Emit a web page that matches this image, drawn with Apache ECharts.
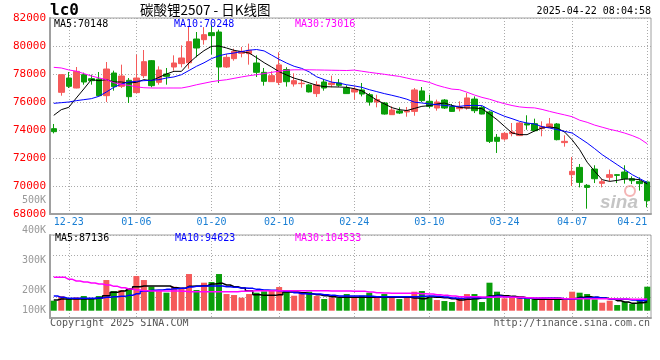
<!DOCTYPE html>
<html><head><meta charset="utf-8">
<script src="https://cdn.jsdelivr.net/npm/echarts@6/dist/echarts.min.js"></script>
<style>html,body{margin:0;padding:0;background:#fff}#c{width:660px;height:360px}</style>
</head><body><div id="c"></div>
<script>
const dates = ['12-19','12-20','12-23','12-24','12-25','12-26','12-27','12-30','12-31',
'01-02','01-03','01-06','01-07','01-08','01-09','01-10','01-13','01-14','01-15','01-16','01-17','01-20','01-21','01-22','01-23','01-24','01-27',
'02-05','02-06','02-07','02-10','02-11','02-12','02-13','02-14','02-17','02-18','02-19','02-20','02-21','02-24','02-25','02-26','02-27','02-28',
'03-03','03-04','03-05','03-06','03-07','03-10','03-11','03-12','03-13','03-14','03-17','03-18','03-19','03-20','03-21','03-24','03-25','03-26','03-27','03-28','03-31',
'04-01','04-02','04-03','04-07','04-08','04-09','04-10','04-11','04-14','04-15','04-16','04-17','04-18','04-21'];
const labelDates = ['12-23','01-06','01-20','02-10','02-24','03-10','03-24','04-07','04-21'];

const open = [74095,76690,77714,77000,77952,77667,77643,76452,78071,77119,
77548,76667,77881,78952,77405,78000,78500,78738,78800,80500,
80452,80950,81000,78500,79095,79476,79452,78786,78119,77452,
77400,78320,77286,77310,77220,76600,77430,77240,77360,77000,
76714,76860,76520,76000,75930,75095,75360,75290,75330,76790,
76050,75570,76140,75670,75520,75570,76210,75620,75290,73480,
73360,73740,73600,74450,74450,74100,74190,74430,73100,70810,
71330,70050,71210,70190,70620,70810,71000,70520,70330,70290];
const close = [73881,77950,77119,78190,77429,77524,76452,78357,77095,77857,
76381,77714,78881,77167,78286,77833,78786,79143,80310,79857,
80810,80740,78500,79190,79619,79619,79690,78119,77476,77881,
78650,77450,77524,77340,76720,77230,77000,77360,77190,76600,
76905,76570,76000,76170,75140,75430,75210,75380,76860,76100,
75690,76000,75570,75330,75640,76290,75380,75140,73190,73190,
73760,73860,74500,74360,73950,74240,74430,73310,73190,71050,
70260,69900,70520,70310,70810,70760,70520,70380,70170,68950];
const low = [73760,76450,77000,76980,77238,77238,76405,76000,76810,77000,
75928,76620,77714,77048,77238,77238,78238,78476,78380,79190,
80095,79400,77360,78430,78950,79190,78667,77786,77167,77440,
77210,77100,77100,77020,76680,76360,76810,77050,77090,76580,
76170,76400,75740,75620,75100,75090,75140,74950,75020,76000,
75570,75380,75500,75290,75330,75450,75210,75120,73070,72360,
73240,73550,73570,74020,73900,73550,74140,73260,72810,70000,
69900,68380,70210,69900,70330,70210,70170,70140,69670,68480];
const high = [74430,77980,78143,78500,78095,77952,78143,78857,78238,78667,
77714,79381,79714,79000,78548,78429,79333,80048,81380,81000,
81350,81500,81170,79430,79810,79930,80167,79333,78429,78190,
79550,78480,78050,77640,77280,77480,77640,77880,77640,77190,
77120,77360,76640,76520,76000,75690,75620,75640,77000,77070,
76520,76170,76210,75860,76050,76640,76400,75700,75380,73710,
73860,74500,74570,75050,74810,74620,74860,74500,73620,72070,
71570,70140,71480,70500,71170,70830,71480,70690,70620,70330];

const ma5 = [75048,75452,75619,76286,76929,77595,77524,77595,77429,77429,
77357,77405,77595,77524,77762,78000,78190,78190,78786,79262,
79667,79976,80000,79857,79690,79595,79500,79167,78810,78500,
78167,77929,77700,77550,77370,77190,77100,77080,77070,77048,
76950,76800,76480,76140,75870,75600,75450,75390,75540,75690,
75738,75857,75929,75762,75619,75571,75571,75524,75143,74738,
74262,73786,73667,73667,73930,74143,74214,74143,73857,73300,
72600,71700,71050,70450,70330,70400,70500,70500,70450,70148];
const ma10 = [75905,75952,76000,76095,76167,76238,76405,76714,77048,77286,
77429,77476,77524,77548,77595,77714,77790,77950,78250,78550,
78800,79100,79300,79430,79500,79600,79700,79750,79650,79350,
79050,78780,78550,78400,78150,77800,77600,77420,77350,77230,
77150,77050,76880,76740,76600,76480,76350,76200,75990,75930,
75860,75810,75760,75700,75690,75750,75760,75740,75450,75210,
74980,74810,74620,74500,74430,74238,74143,74024,73905,73786,
73429,73071,72667,72238,71881,71524,71167,70810,70524,70248];
const ma30 = [78476,78430,78290,78200,78030,77860,77720,77600,77380,77250,
77190,77080,77020,77000,77000,77000,77000,77000,77100,77230,
77340,77450,77530,77590,77690,77790,77880,77950,78030,78120,
78200,78270,78300,78300,78300,78290,78280,78270,78260,78250,
78280,78200,78120,78050,77980,77900,77830,77710,77590,77520,
77400,77200,77050,76920,76880,76700,76500,76330,76200,76030,
75880,75750,75650,75600,75580,75470,75330,75200,75080,74950,
74700,74550,74350,74200,74050,73930,73780,73600,73380,73016];

const volume = [90000,132000,111000,120000,132000,111000,132000,276000,177000,186000,
204000,312000,276000,216000,177000,162000,216000,207000,330000,186000,
252000,258000,330000,150000,141000,117000,150000,162000,174000,177000,
213000,186000,135000,150000,171000,132000,105000,120000,120000,150000,
120000,135000,162000,126000,150000,126000,105000,120000,171000,177000,
117000,96000,87000,78000,111000,150000,150000,78000,252000,171000,
111000,126000,126000,117000,111000,111000,96000,120000,102000,171000,
162000,150000,102000,72000,90000,51000,78000,60000,102000,216000];
const volMa5 = [96000,105000,105000,105000,105000,108000,114000,135000,165000,177000,
195000,216000,222000,222000,222000,222000,207000,201000,219000,222000,
225000,240000,246000,231000,216000,204000,180000,144000,138000,138000,
144000,168000,168000,162000,153000,144000,135000,126000,120000,120000,
120000,120000,120000,120000,120000,120000,120000,120000,114000,108000,
123000,120000,117000,108000,96000,102000,108000,117000,132000,138000,
135000,129000,123000,114000,102000,102000,102000,102000,105000,108000,
120000,126000,120000,114000,108000,90000,78000,66000,72000,81000];
const volMa10 = [132000,120000,111000,111000,111000,111000,114000,120000,126000,129000,
138000,153000,174000,183000,186000,192000,198000,201000,213000,219000,
222000,222000,222000,216000,210000,204000,201000,192000,186000,183000,
180000,174000,162000,153000,150000,150000,144000,138000,132000,132000,
132000,132000,129000,126000,126000,126000,126000,126000,126000,129000,
132000,129000,123000,114000,111000,117000,117000,117000,126000,132000,
126000,120000,114000,111000,111000,114000,114000,111000,108000,108000,
111000,114000,120000,114000,105000,102000,102000,96000,90000,96000];
const volMa30 = [300000,300000,282000,267000,258000,249000,240000,231000,219000,207000,
195000,186000,180000,177000,177000,177000,177000,174000,171000,171000,
171000,171000,171000,171000,171000,174000,177000,180000,180000,180000,
180000,180000,180000,180000,180000,180000,180000,177000,177000,177000,
174000,174000,168000,162000,159000,156000,156000,156000,156000,153000,
150000,144000,138000,132000,126000,126000,126000,123000,120000,123000,
123000,120000,120000,117000,114000,114000,111000,111000,108000,108000,
108000,108000,108000,108000,108000,105000,105000,102000,102000,105000];

const volTickValues = [100000,200000,300000,400000,500000];
const volTickLabels = ['100K','200K','300K','400K','500K'];

const RED = '#f55a5a', GREEN = '#0a9e0a', GRID = '#aaaaaa', FRAME = '#a0a0a0';
const MONO = "'DejaVu Sans Mono', 'Liberation Mono', monospace";
const labelSet = new Set(labelDates);
const showDate = (i, v) => labelSet.has(v !== undefined ? v : dates[i]);

const candles = dates.map((d, i) => [open[i], close[i], low[i], high[i]]);
const dotted = { color: GRID, width: 1, type: [1, 2] };

const chart = echarts.init(document.getElementById('c'), null, { renderer: 'canvas' });
chart.setOption({
  animation: false,
  backgroundColor: '#fff',
  grid: [
    { left: 50, right: 9, top: 18, height: 196, show: true, borderColor: FRAME, borderWidth: 1 },
    { left: 50, right: 9, top: 235, height: 82.7, show: true, borderColor: FRAME, borderWidth: 1 },
    { left: 50, right: 9, top: 235, height: 75.7 },
    { left: 50, right: 9, top: 200, height: 121 }
  ],
  xAxis: [
    { gridIndex: 0, type: 'category', data: dates, boundaryGap: true,
      axisLine: { show: true, lineStyle: { color: FRAME, width: 2 } },
      axisTick: { show: false },
      axisLabel: { interval: showDate, color: '#1a7fd4', fontFamily: MONO, fontSize: 10, margin: 3, alignMaxLabel: 'right' },
      splitLine: { show: true, interval: showDate, alignWithLabel: true, lineStyle: dotted } },
    { gridIndex: 1, type: 'category', data: dates, boundaryGap: true,
      axisLine: { show: true, lineStyle: { color: FRAME, width: 2 } },
      axisTick: { show: false }, axisLabel: { show: false },
      splitLine: { show: true, interval: showDate, alignWithLabel: true, lineStyle: dotted } },
    { gridIndex: 2, type: 'category', data: dates, boundaryGap: true, show: false },
    { gridIndex: 3, type: 'category', data: dates, boundaryGap: true, show: false }
  ],
  yAxis: [
    { gridIndex: 0, type: 'value', min: 68000, max: 82000, interval: 2000,
      axisLine: { show: true, lineStyle: { color: FRAME, width: 2 } }, axisTick: { show: false },
      axisLabel: { color: '#ff0000', fontFamily: MONO, fontSize: 11, margin: 4, formatter: v => String(v) },
      splitLine: { show: true, lineStyle: dotted } },
    { gridIndex: 1, type: 'value', min: 0, max: 4, interval: 1,
      axisLine: { show: true, lineStyle: { color: FRAME, width: 2 } }, axisTick: { show: false },
      axisLabel: { show: false }, splitLine: { show: true, lineStyle: dotted } },
    { gridIndex: 2, type: 'value', min: 0, max: 681300, show: false, splitLine: { show: false } },
    { gridIndex: 3, type: 'value', min: volTickValues[0], max: volTickValues[volTickValues.length - 1], interval: 100000,
      axisLine: { show: false }, axisTick: { show: false }, splitLine: { show: false },
      axisLabel: { margin: 4, color: '#999', fontFamily: MONO, fontSize: 10,
        formatter: v => { const t = volTickLabels[volTickValues.indexOf(v)] || ''; return v === volTickValues[0] ? '{up|' + t + '}' : t; },
        rich: { up: { color: '#999', fontFamily: MONO, fontSize: 10, padding: [0, 0, 22, 0] } } } }
  ],
  series: [
    { type: 'candlestick', xAxisIndex: 0, yAxisIndex: 0, data: candles, barWidth: 6,
      itemStyle: { color: RED, color0: GREEN, borderColor: RED, borderColor0: GREEN, borderWidth: 1 } },
    { type: 'line', xAxisIndex: 0, yAxisIndex: 0, data: ma5, symbol: 'none', lineStyle: { color: '#000', width: 1 }, z: 5 },
    { type: 'line', xAxisIndex: 0, yAxisIndex: 0, data: ma10, symbol: 'none', lineStyle: { color: '#0000ff', width: 1 }, z: 5 },
    { type: 'line', xAxisIndex: 0, yAxisIndex: 0, data: ma30, symbol: 'none', lineStyle: { color: '#ff00ff', width: 1 }, z: 5 },
    { type: 'bar', xAxisIndex: 2, yAxisIndex: 2, data: volume, barWidth: 6,
      itemStyle: { color: p => close[p.dataIndex] >= open[p.dataIndex] ? RED : GREEN } },
    { type: 'line', xAxisIndex: 2, yAxisIndex: 2, data: volMa5, symbol: 'none', step: 'middle', lineStyle: { color: '#000', width: 1.5 }, z: 5 },
    { type: 'line', xAxisIndex: 2, yAxisIndex: 2, data: volMa10, symbol: 'none', step: 'middle', lineStyle: { color: '#0000ff', width: 1.5 }, z: 5 },
    { type: 'line', xAxisIndex: 2, yAxisIndex: 2, data: volMa30, symbol: 'none', step: 'middle', lineStyle: { color: '#ff00ff', width: 1.5 }, z: 5 }
  ],
  graphic: [
    { type: 'text', left: 50, top: 3, style: { text: 'lc0', fill: '#000', font: "bold 16px 'DejaVu Sans Mono'" } },
    { type: 'text', left: 140, top: 3, style: { text: '碳酸锂2507 - 日K线图', fill: '#000', font: "13.5px 'Noto Sans CJK SC'" } },
    { type: 'text', right: 9, top: 6, style: { text: '2025-04-22 08:04:58', fill: '#000', font: "10px 'DejaVu Sans Mono'" } },
    { type: 'text', left: 54, top: 19, z: 10, style: { text: 'MA5:70148', fill: '#000', font: "10px 'DejaVu Sans Mono'" } },
    { type: 'text', left: 174, top: 19, z: 10, style: { text: 'MA10:70248', fill: '#0000ff', font: "10px 'DejaVu Sans Mono'" } },
    { type: 'text', left: 295, top: 19, z: 10, style: { text: 'MA30:73016', fill: '#ff00ff', font: "10px 'DejaVu Sans Mono'" } },
    { type: 'text', left: 55, top: 233, z: 10, style: { text: 'MA5:87136', fill: '#000', font: "10px 'DejaVu Sans Mono'" } },
    { type: 'text', left: 175, top: 233, z: 10, style: { text: 'MA10:94623', fill: '#0000ff', font: "10px 'DejaVu Sans Mono'" } },
    { type: 'text', left: 295, top: 233, z: 10, style: { text: 'MA30:104533', fill: '#ff00ff', font: "10px 'DejaVu Sans Mono'" } },
    { type: 'text', left: 50, top: 318, style: { text: 'Copyright 2025 SINA.COM', fill: '#555', font: "10px 'DejaVu Sans Mono'" } },
    { type: 'text', right: 10, top: 318, style: { text: 'http://finance.sina.com.cn', fill: '#555', font: "10px 'DejaVu Sans Mono'" } },
    { type: 'circle', shape: { cx: 630, cy: 191, r: 5 }, style: { fill: 'none', stroke: 'rgba(235,120,120,0.55)', lineWidth: 2 }, z: 1 },
    { type: 'text', left: 600, top: 193, z: 1, style: { text: 'sina', fill: 'rgba(150,150,150,0.55)', font: "italic bold 19px 'Liberation Sans'" } }
  ]
});
</script></body></html>
